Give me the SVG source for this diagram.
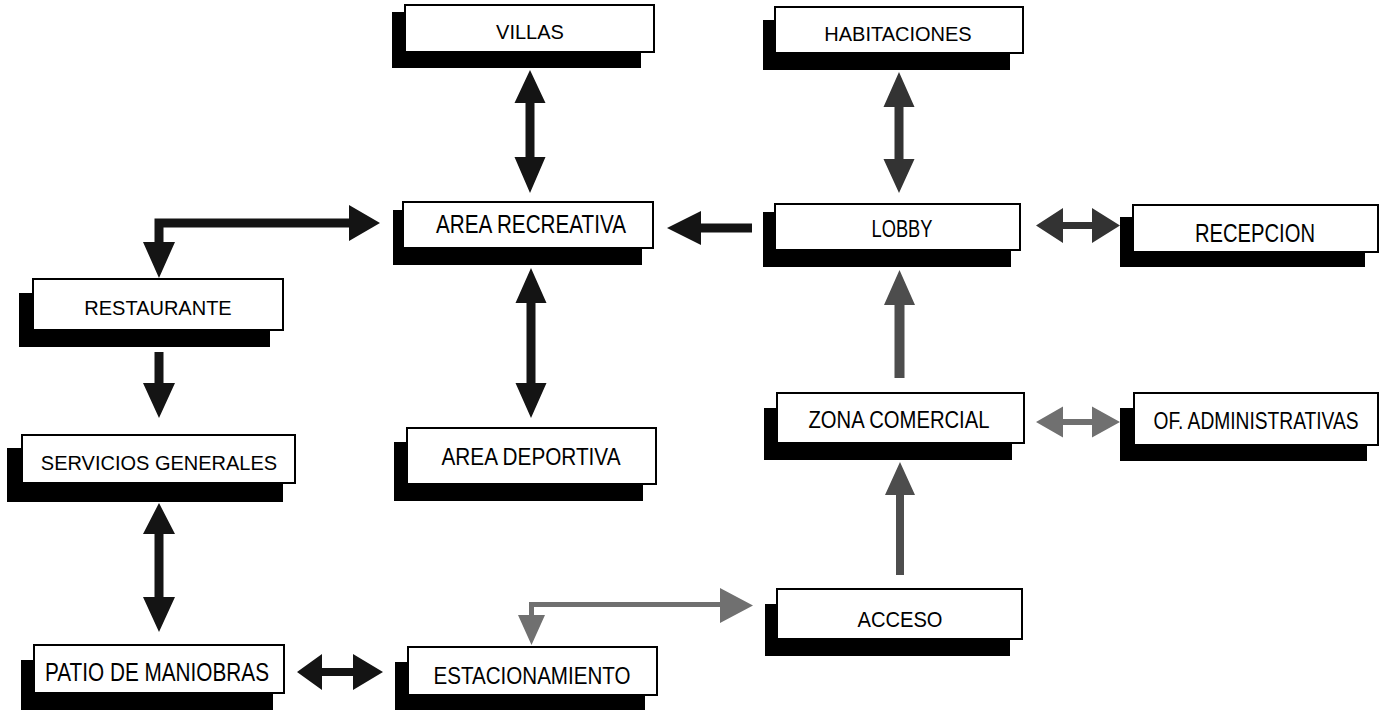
<svg xmlns="http://www.w3.org/2000/svg" width="1381" height="710" viewBox="0 0 1381 710">
<style>
.sh{fill:#000}
.bx{fill:#fff;stroke:#000;stroke-width:2}
.t{font-family:"Liberation Sans",Arial,sans-serif;fill:#000;text-anchor:middle}
.r{font-size:20px}
.dk{fill:#141414}
.md{fill:#333}
.gy{fill:#4d4d4d}
.lg{fill:#707070}
</style>
<rect width="1381" height="710" fill="#fff"/>
<g id="connectors">
<polygon class="dk" points="530,70 545.5,103 534.5,103 534.5,157 545.5,157 530,193 514.5,157 525.5,157 525.5,103 514.5,103"/>
<polygon class="md" points="899,72 914.5,107 903.5,107 903.5,159 914.5,159 899,193 883.5,159 894.5,159 894.5,107 883.5,107"/>
<polygon class="dk" points="531,268 546.5,303 535.5,303 535.5,383 546.5,383 531,418 515.5,383 526.5,383 526.5,303 515.5,303"/>
<polygon class="dk" points="159,503 175,534 163.5,534 163.5,597 175,597 159,632 143,597 154.5,597 154.5,534 143,534"/>
<polygon class="dk" points="154.5,352 163.5,352 163.5,383 175,383 159,418 143,383 154.5,383"/>
<polygon class="dk" points="667,228 701,211 701,223.5 752,223.5 752,232.5 701,232.5 701,245"/>
<polygon class="md" points="1036,225.5 1063,208 1063,222 1092,222 1092,208 1120,225.5 1092,243 1092,229 1063,229 1063,243"/>
<polygon class="gy" points="899.5,270 915,305 904.5,305 904.5,378 894.5,378 894.5,305 884,305"/>
<polygon class="lg" points="1036,422 1063,406.5 1063,419 1092,419 1092,406.5 1120,422 1092,437.5 1092,425 1063,425 1063,437.5"/>
<polygon class="gy" points="900,462 915,495 904,495 904,575 896,575 896,495 885,495"/>
<polygon class="dk" points="154.5,218.5 349,218.5 349,205 380,223 349,241 349,227.5 163.5,227.5 163.5,242 175,242 159,278 143,242 154.5,242"/>
<polygon class="dk" points="297,672 322,654 322,668 353,668 353,654 383,672 353,690 353,676 322,676 322,690"/>
<polygon class="lg" points="529,602 720,602 720,588 753,605.5 720,623 720,607 534,607 534,615 545,615 531.5,645 518,615 529,615"/>
</g>
<g id="villas">
<rect class="sh" x="392" y="12" width="249" height="56"/>
<rect class="bx" x="405" y="5" width="249" height="47"/>
<text class="t r" x="530" y="39">VILLAS</text>
</g>
<g id="habitaciones">
<rect class="sh" x="763" y="20" width="247" height="50"/>
<rect class="bx" x="775" y="7" width="248" height="46"/>
<text class="t r" x="898" y="41">HABITACIONES</text>
</g>
<g id="area-recreativa">
<rect class="sh" x="393" y="210" width="249" height="55"/>
<rect class="bx" x="403" y="202" width="250" height="46"/>
<text class="t" x="531" y="233" font-size="26" textLength="190" lengthAdjust="spacingAndGlyphs">AREA RECREATIVA</text>
</g>
<g id="lobby">
<rect class="sh" x="763" y="212" width="248" height="55"/>
<rect class="bx" x="775" y="204" width="245" height="46"/>
<text class="t" x="902" y="237" font-size="24" textLength="61" lengthAdjust="spacingAndGlyphs">LOBBY</text>
</g>
<g id="recepcion">
<rect class="sh" x="1120" y="217" width="245" height="50"/>
<rect class="bx" x="1133" y="205" width="245" height="47"/>
<text class="t" x="1255" y="242" font-size="26" textLength="120" lengthAdjust="spacingAndGlyphs">RECEPCION</text>
</g>
<g id="restaurante">
<rect class="sh" x="19" y="293" width="251" height="54"/>
<rect class="bx" x="33" y="279" width="250" height="51"/>
<text class="t r" x="158" y="315">RESTAURANTE</text>
</g>
<g id="servicios-generales">
<rect class="sh" x="7" y="448" width="276" height="54"/>
<rect class="bx" x="22" y="435" width="273" height="48"/>
<text class="t r" x="159" y="470">SERVICIOS GENERALES</text>
</g>
<g id="area-deportiva">
<rect class="sh" x="394" y="442" width="249" height="59"/>
<rect class="bx" x="407" y="428" width="249" height="56"/>
<text class="t" x="531" y="465" font-size="24" textLength="179" lengthAdjust="spacingAndGlyphs">AREA DEPORTIVA</text>
</g>
<g id="zona-comercial">
<rect class="sh" x="764" y="408" width="248" height="52"/>
<rect class="bx" x="777" y="393" width="247" height="50"/>
<text class="t" x="899" y="428" font-size="23" textLength="181" lengthAdjust="spacingAndGlyphs">ZONA COMERCIAL</text>
</g>
<g id="of-administrativas">
<rect class="sh" x="1120" y="408" width="247" height="53"/>
<rect class="bx" x="1134" y="393" width="244" height="52"/>
<text class="t" font-size="24" transform="translate(1256,429) scale(0.8,1)">OF. ADMINISTRATIVAS</text>
</g>
<g id="acceso">
<rect class="sh" x="765" y="604" width="245" height="52"/>
<rect class="bx" x="777" y="589" width="245" height="50"/>
<text class="t" x="900" y="627" font-size="22" textLength="85" lengthAdjust="spacingAndGlyphs">ACCESO</text>
</g>
<g id="patio-de-maniobras">
<rect class="sh" x="21" y="660" width="252" height="50"/>
<rect class="bx" x="34" y="645" width="250" height="48"/>
<text class="t" x="157" y="681" font-size="25" textLength="224" lengthAdjust="spacingAndGlyphs">PATIO DE MANIOBRAS</text>
</g>
<g id="estacionamiento">
<rect class="sh" x="395" y="662" width="250" height="48"/>
<rect class="bx" x="408" y="647" width="249" height="48"/>
<text class="t" x="532" y="684" font-size="24" textLength="197" lengthAdjust="spacingAndGlyphs">ESTACIONAMIENTO</text>
</g>
</svg>
